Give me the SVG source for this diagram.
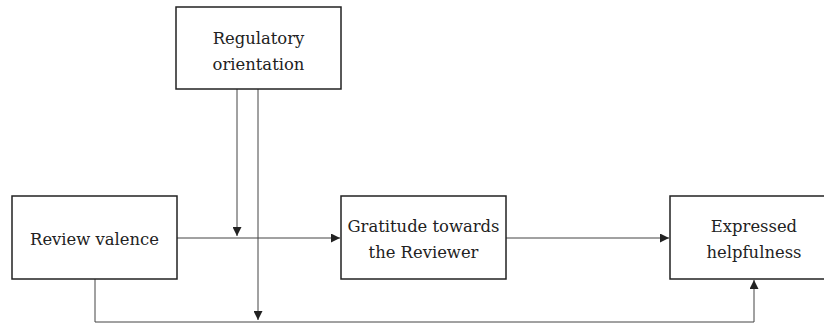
<svg xmlns="http://www.w3.org/2000/svg" width="824" height="324" viewBox="0 0 824 324">
<style>
.box{fill:#fff;stroke:#222;stroke-width:1.5}
.t{font-family:'DejaVu Serif',serif;font-size:16.4px;fill:#222;text-anchor:middle}
.c{fill:none;stroke:#444;stroke-width:1}
</style>
<defs>
<marker id="a" viewBox="0 0 10 10" refX="10" refY="5" markerWidth="9" markerHeight="9" markerUnits="userSpaceOnUse" orient="auto">
<path d="M0,0 L10,5 L0,10 z" fill="#222"/>
</marker>
</defs>
<rect width="824" height="324" fill="#fff"/>
<g id="connectors">
<path class="c" d="M177,238 H340" marker-end="url(#a)"/>
<path class="c" d="M237,89 V236" marker-end="url(#a)"/>
<path class="c" d="M258,89 V320" marker-end="url(#a)"/>
<path class="c" d="M506,238 H669" marker-end="url(#a)"/>
<path class="c" d="M95,279 V322 H754 V280" marker-end="url(#a)"/>
</g>
<g id="regulatory">
<rect class="box" x="176" y="7" width="165" height="82"/>
<text class="t" x="258.5" y="44">Regulatory</text>
<text class="t" x="258.5" y="70">orientation</text>
</g>
<g id="review">
<rect class="box" x="12" y="196" width="165" height="83"/>
<text class="t" x="94.5" y="245">Review valence</text>
</g>
<g id="gratitude">
<rect class="box" x="341" y="196" width="165" height="83"/>
<text class="t" x="423.5" y="232">Gratitude towards</text>
<text class="t" x="423.5" y="258">the Reviewer</text>
</g>
<g id="expressed">
<rect class="box" x="670" y="196" width="166" height="83"/>
<text class="t" x="754" y="232">Expressed</text>
<text class="t" x="754" y="258">helpfulness</text>
</g>
</svg>
